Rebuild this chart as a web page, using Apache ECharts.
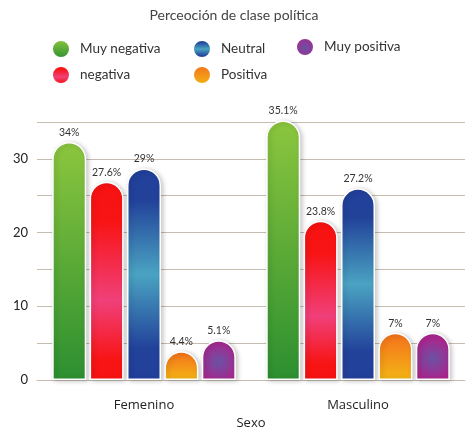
<!DOCTYPE html>
<html><head><meta charset="utf-8">
<script src="https://cdn.jsdelivr.net/npm/echarts@6/dist/echarts.min.js"></script>
<style>html,body{margin:0;padding:0;background:#fff}#c{width:468px;height:435px}</style>
</head><body><div id="c"></div>
<script>
const categories = ['Femenino', 'Masculino'];
const seriesNames = ['Muy negativa', 'negativa', 'Neutral', 'Positiva', 'Muy positiva'];
// bar heights as drawn
const muyNegativa = [32.3, 35.2];
const negativa = [26.9, 21.6];
const neutral = [28.7, 26.0];
const positiva = [3.9, 6.4];
const muyPositiva = [5.4, 6.4];
// printed labels
const muyNegativaLbl = ['34%', '35.1%'];
const negativaLbl = ['27.6%', '23.8%'];
const neutralLbl = ['29%', '27.2%'];
const positivaLbl = ['4.4%', '7%'];
const muyPositivaLbl = ['5.1%', '7%'];
const yTicks = [0, 10, 20, 30];

const values = [muyNegativa, negativa, neutral, positiva, muyPositiva];
const labels = [muyNegativaLbl, negativaLbl, neutralLbl, positivaLbl, muyPositivaLbl];
const G = echarts.graphic;
const colors = [
  new G.LinearGradient(0, 0, 0, 1, [{offset: 0, color: '#8cc63e'}, {offset: 1, color: '#2c8f30'}]),
  new G.LinearGradient(0, 0, 0, 1, [{offset: 0, color: '#f81212'}, {offset: 0.2, color: '#f81414'}, {offset: 0.6, color: '#f0407a'}, {offset: 0.9, color: '#f81414'}, {offset: 1, color: '#f81212'}]),
  new G.LinearGradient(0, 0, 0, 1, [{offset: 0, color: '#22409a'}, {offset: 0.15, color: '#22429a'}, {offset: 0.5, color: '#4aa3c2'}, {offset: 0.85, color: '#22429a'}, {offset: 1, color: '#22409a'}]),
  new G.LinearGradient(0, 0, 0, 1, [{offset: 0, color: '#f5701c'}, {offset: 1, color: '#f3b515'}]),
  new G.RadialGradient(0.5, 0.55, 0.6, [{offset: 0, color: '#6a52a4'}, {offset: 1, color: '#a9268e'}])
];

const font = 'Lato, "Open Sans", sans-serif';
const chart = echarts.init(document.getElementById('c'));
const legendBase = {
  orient: 'vertical', icon: 'circle', itemWidth: 18, itemHeight: 18, itemGap: 6,
  textStyle: {fontFamily: font, fontSize: 13.5, color: '#333', padding: [0, 0, 0, 5]}
};
chart.setOption({
  animation: false,
  title: {text: 'Perceoción de clase política', left: 'center', top: 3,
    textStyle: {fontFamily: font, fontSize: 14, fontWeight: 'normal', color: '#444'}},
  legend: [
    Object.assign({left: 46, top: 34, data: [seriesNames[0], seriesNames[1]]}, legendBase),
    Object.assign({left: 187, top: 34, data: [seriesNames[2], seriesNames[3]]}, legendBase),
    Object.assign({left: 290, top: 32, data: [seriesNames[4]]}, legendBase)
  ],
  grid: {left: 37, right: 3, top: 122, bottom: 52},
  xAxis: {
    type: 'category', data: categories, name: 'Sexo', nameLocation: 'middle', nameGap: 37,
    nameTextStyle: {fontFamily: '"Open Sans", sans-serif', fontSize: 13, color: '#222'},
    axisTick: {show: false},
    axisLine: {lineStyle: {color: '#c6bdb0'}},
    axisLabel: {fontFamily: '"Open Sans", sans-serif', fontSize: 13, color: '#222', margin: 19}
  },
  yAxis: {
    type: 'value', min: 0, max: 35, interval: 5,
    axisLabel: {fontFamily: font, fontSize: 13, color: '#222', margin: 9,
      formatter: v => yTicks.includes(v) ? String(v) : ''},
    splitLine: {lineStyle: {color: '#c6bdb0'}}
  },
  series: seriesNames.map((n, i) => ({
    name: n, type: 'bar', data: values[i], clip: false,
    barWidth: 34, barGap: '10%',
    itemStyle: {color: colors[i], borderRadius: [17, 17, 0, 0], borderColor: '#fff', borderWidth: 1.5,
      shadowBlur: 5, shadowColor: 'rgba(0,0,0,0.22)', shadowOffsetX: 2, shadowOffsetY: 1},
    label: {show: true, position: 'top', distance: 4, fontFamily: font, fontSize: 10.5, color: '#333',
      formatter: p => labels[i][p.dataIndex]}
  }))
});
</script></body></html>
